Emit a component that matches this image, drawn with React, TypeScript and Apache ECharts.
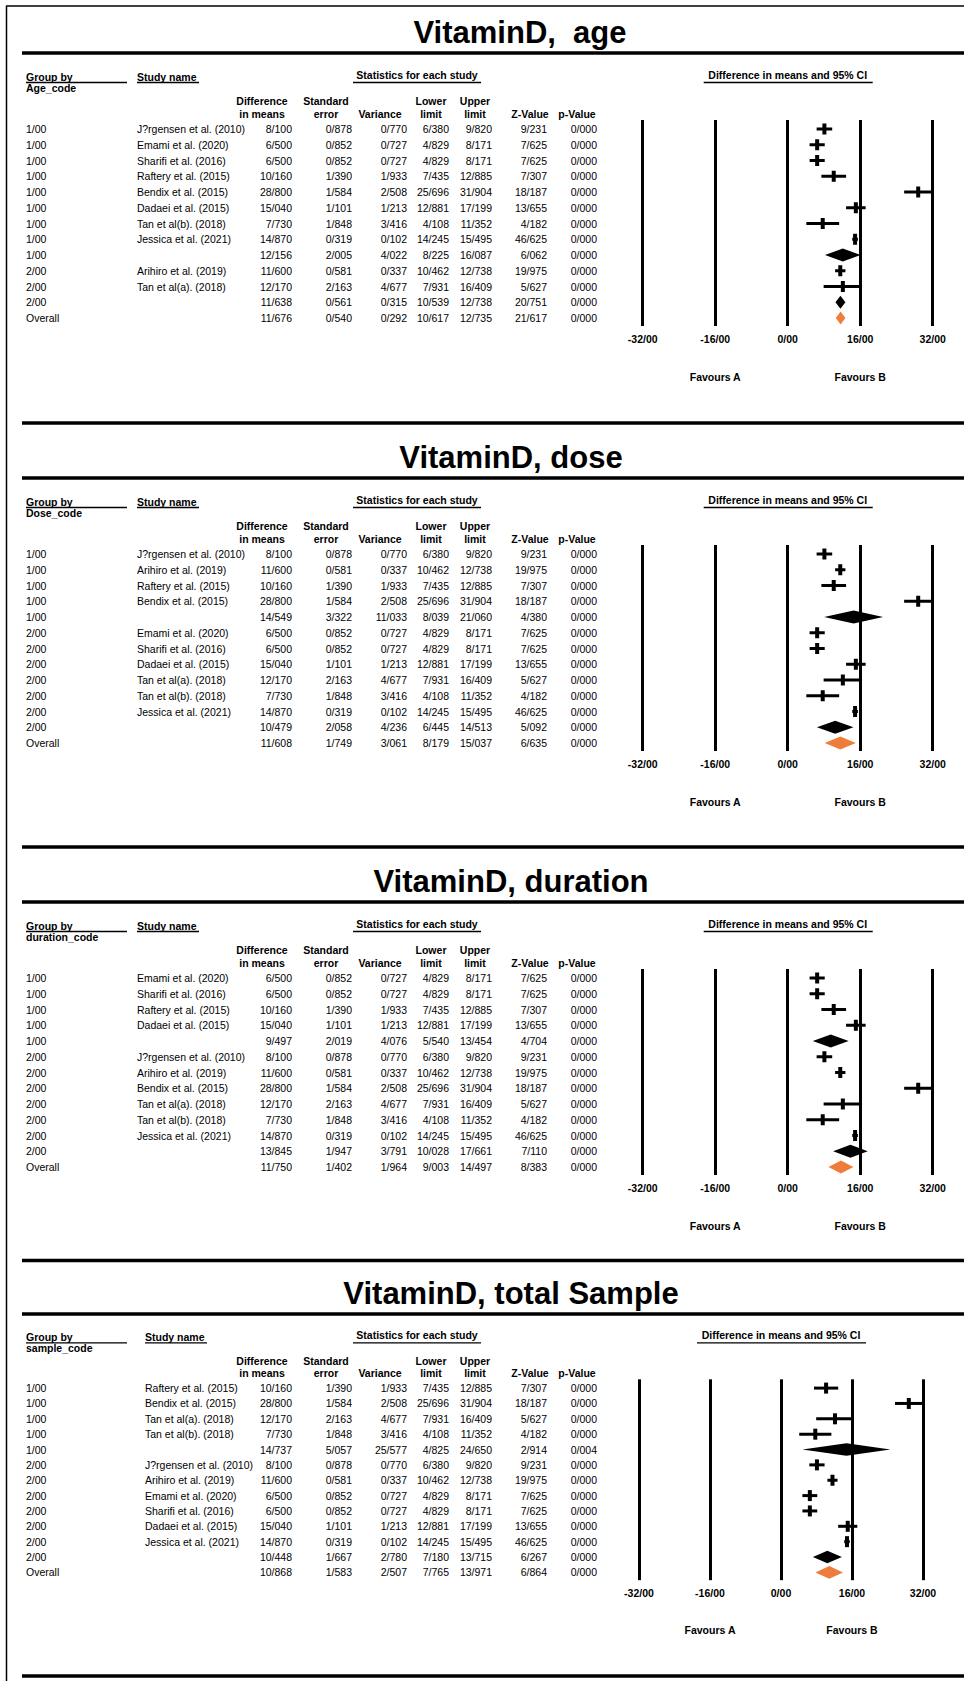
import React, { useEffect, useRef } from "react";
import * as echarts from "echarts";

// ---------- DATA ----------
// columns: group, study, difference in means, standard error, variance, lower, upper, Z, p
const xTicks = [-32, -16, 0, 16, 32];
const colHeaders = [
  ["Difference", "in means"],
  ["Standard", "error"],
  ["", "Variance"],
  ["Lower", "limit"],
  ["Upper", "limit"],
  ["", "Z-Value"],
  ["", "p-Value"],
];

const ageRows = [
  ["1/00", "J?rgensen et al. (2010)", "8/100", "0/878", "0/770", "6/380", "9/820", "9/231", "0/000"],
  ["1/00", "Emami et al. (2020)", "6/500", "0/852", "0/727", "4/829", "8/171", "7/625", "0/000"],
  ["1/00", "Sharifi et al. (2016)", "6/500", "0/852", "0/727", "4/829", "8/171", "7/625", "0/000"],
  ["1/00", "Raftery et al. (2015)", "10/160", "1/390", "1/933", "7/435", "12/885", "7/307", "0/000"],
  ["1/00", "Bendix et al. (2015)", "28/800", "1/584", "2/508", "25/696", "31/904", "18/187", "0/000"],
  ["1/00", "Dadaei et al. (2015)", "15/040", "1/101", "1/213", "12/881", "17/199", "13/655", "0/000"],
  ["1/00", "Tan et al(b). (2018)", "7/730", "1/848", "3/416", "4/108", "11/352", "4/182", "0/000"],
  ["1/00", "Jessica et al. (2021)", "14/870", "0/319", "0/102", "14/245", "15/495", "46/625", "0/000"],
  ["1/00", "", "12/156", "2/005", "4/022", "8/225", "16/087", "6/062", "0/000"],
  ["2/00", "Arihiro et al. (2019)", "11/600", "0/581", "0/337", "10/462", "12/738", "19/975", "0/000"],
  ["2/00", "Tan et al(a). (2018)", "12/170", "2/163", "4/677", "7/931", "16/409", "5/627", "0/000"],
  ["2/00", "", "11/638", "0/561", "0/315", "10/539", "12/738", "20/751", "0/000"],
  ["Overall", "", "11/676", "0/540", "0/292", "10/617", "12/735", "21/617", "0/000"],
];

const doseRows = [
  ["1/00", "J?rgensen et al. (2010)", "8/100", "0/878", "0/770", "6/380", "9/820", "9/231", "0/000"],
  ["1/00", "Arihiro et al. (2019)", "11/600", "0/581", "0/337", "10/462", "12/738", "19/975", "0/000"],
  ["1/00", "Raftery et al. (2015)", "10/160", "1/390", "1/933", "7/435", "12/885", "7/307", "0/000"],
  ["1/00", "Bendix et al. (2015)", "28/800", "1/584", "2/508", "25/696", "31/904", "18/187", "0/000"],
  ["1/00", "", "14/549", "3/322", "11/033", "8/039", "21/060", "4/380", "0/000"],
  ["2/00", "Emami et al. (2020)", "6/500", "0/852", "0/727", "4/829", "8/171", "7/625", "0/000"],
  ["2/00", "Sharifi et al. (2016)", "6/500", "0/852", "0/727", "4/829", "8/171", "7/625", "0/000"],
  ["2/00", "Dadaei et al. (2015)", "15/040", "1/101", "1/213", "12/881", "17/199", "13/655", "0/000"],
  ["2/00", "Tan et al(a). (2018)", "12/170", "2/163", "4/677", "7/931", "16/409", "5/627", "0/000"],
  ["2/00", "Tan et al(b). (2018)", "7/730", "1/848", "3/416", "4/108", "11/352", "4/182", "0/000"],
  ["2/00", "Jessica et al. (2021)", "14/870", "0/319", "0/102", "14/245", "15/495", "46/625", "0/000"],
  ["2/00", "", "10/479", "2/058", "4/236", "6/445", "14/513", "5/092", "0/000"],
  ["Overall", "", "11/608", "1/749", "3/061", "8/179", "15/037", "6/635", "0/000"],
];

const durationRows = [
  ["1/00", "Emami et al. (2020)", "6/500", "0/852", "0/727", "4/829", "8/171", "7/625", "0/000"],
  ["1/00", "Sharifi et al. (2016)", "6/500", "0/852", "0/727", "4/829", "8/171", "7/625", "0/000"],
  ["1/00", "Raftery et al. (2015)", "10/160", "1/390", "1/933", "7/435", "12/885", "7/307", "0/000"],
  ["1/00", "Dadaei et al. (2015)", "15/040", "1/101", "1/213", "12/881", "17/199", "13/655", "0/000"],
  ["1/00", "", "9/497", "2/019", "4/076", "5/540", "13/454", "4/704", "0/000"],
  ["2/00", "J?rgensen et al. (2010)", "8/100", "0/878", "0/770", "6/380", "9/820", "9/231", "0/000"],
  ["2/00", "Arihiro et al. (2019)", "11/600", "0/581", "0/337", "10/462", "12/738", "19/975", "0/000"],
  ["2/00", "Bendix et al. (2015)", "28/800", "1/584", "2/508", "25/696", "31/904", "18/187", "0/000"],
  ["2/00", "Tan et al(a). (2018)", "12/170", "2/163", "4/677", "7/931", "16/409", "5/627", "0/000"],
  ["2/00", "Tan et al(b). (2018)", "7/730", "1/848", "3/416", "4/108", "11/352", "4/182", "0/000"],
  ["2/00", "Jessica et al. (2021)", "14/870", "0/319", "0/102", "14/245", "15/495", "46/625", "0/000"],
  ["2/00", "", "13/845", "1/947", "3/791", "10/028", "17/661", "7/110", "0/000"],
  ["Overall", "", "11/750", "1/402", "1/964", "9/003", "14/497", "8/383", "0/000"],
];

const sampleRows = [
  ["1/00", "Raftery et al. (2015)", "10/160", "1/390", "1/933", "7/435", "12/885", "7/307", "0/000"],
  ["1/00", "Bendix et al. (2015)", "28/800", "1/584", "2/508", "25/696", "31/904", "18/187", "0/000"],
  ["1/00", "Tan et al(a). (2018)", "12/170", "2/163", "4/677", "7/931", "16/409", "5/627", "0/000"],
  ["1/00", "Tan et al(b). (2018)", "7/730", "1/848", "3/416", "4/108", "11/352", "4/182", "0/000"],
  ["1/00", "", "14/737", "5/057", "25/577", "4/825", "24/650", "2/914", "0/004"],
  ["2/00", "J?rgensen et al. (2010)", "8/100", "0/878", "0/770", "6/380", "9/820", "9/231", "0/000"],
  ["2/00", "Arihiro et al. (2019)", "11/600", "0/581", "0/337", "10/462", "12/738", "19/975", "0/000"],
  ["2/00", "Emami et al. (2020)", "6/500", "0/852", "0/727", "4/829", "8/171", "7/625", "0/000"],
  ["2/00", "Sharifi et al. (2016)", "6/500", "0/852", "0/727", "4/829", "8/171", "7/625", "0/000"],
  ["2/00", "Dadaei et al. (2015)", "15/040", "1/101", "1/213", "12/881", "17/199", "13/655", "0/000"],
  ["2/00", "Jessica et al. (2021)", "14/870", "0/319", "0/102", "14/245", "15/495", "46/625", "0/000"],
  ["2/00", "", "10/448", "1/667", "2/780", "7/180", "13/715", "6/267", "0/000"],
  ["Overall", "", "10/868", "1/583", "2/507", "7/765", "13/971", "6/864", "0/000"],
];

// ---------- LAYOUT ----------
const FONT = "'Liberation Sans', Arial, Helvetica, sans-serif";
const W = 964;
const H = 1681;

type Panel = {
  title: string;
  code: string;
  rows: string[][];
  L: number; // y of the thick line under the title
  s: number; // vertical scale
  titleX: number;
  studyX: number;
  x0: number; // pixel of -32
  x1: number; // pixel of 32
  above: boolean;
};

const panels: Panel[] = [
  { title: "VitaminD,  age", code: "Age_code", rows: ageRows, L: 53, s: 1, titleX: 520, studyX: 137, x0: 642.7, x1: 932.7, above: false },
  { title: "VitaminD, dose", code: "Dose_code", rows: doseRows, L: 478, s: 1, titleX: 511, studyX: 137, x0: 642.7, x1: 932.7, above: true },
  { title: "VitaminD, duration", code: "duration_code", rows: durationRows, L: 902, s: 1, titleX: 511, studyX: 137, x0: 642.7, x1: 932.7, above: true },
  { title: "VitaminD, total Sample", code: "sample_code", rows: sampleRows, L: 1314, s: 0.975, titleX: 511, studyX: 145, x0: 639, x1: 923, above: true },
];

const groupX = 26;
const valRight = [292, 352, 407, 449, 492, 547, 597];
const headCenter = [262, 326, 380, 431, 475, 530, 577];

const num = (v: string) => parseFloat(v.replace("/", "."));
const kindOf = (r: string[]) => (r[0] === "Overall" ? 2 : r[1] === "" ? 1 : 0);

function buildOption() {
  const grids: any[] = [];
  const xAxes: any[] = [];
  const yAxes: any[] = [];
  const series: any[] = [];
  const graphics: any[] = [];

  const txt = (x: number, y: number, text: string, opts: any = {}) => ({
    type: "text",
    x,
    y,
    silent: true,
    style: {
      text,
      fill: "#000",
      font: `${opts.bold ? "bold " : ""}${opts.size || 10.5}px ${FONT}`,
      textAlign: opts.align || "left",
      align: opts.align || "left",
      textVerticalAlign: "middle",
      verticalAlign: "middle",
    },
  });
  const hline = (x1: number, x2: number, y: number, w: number) => ({
    type: "line",
    silent: true,
    shape: { x1, y1: y, x2, y2: y },
    style: { stroke: "#000", lineWidth: w },
  });

  // page border
  graphics.push(hline(6, W, 6, 1.5));
  graphics.push({ type: "line", silent: true, shape: { x1: 6.5, y1: 6, x2: 6.5, y2: H }, style: { stroke: "#000", lineWidth: 1.5 } });
  graphics.push(hline(22, W, 1676, 3.5));

  panels.forEach((p, gi) => {
    const s = p.s;
    const L = p.L;
    const sp = 15.75 * s;
    const firstRow = L + 76 * s;
    const lineTop = L + 67 * s;
    const lineBottom = L + 273 * s;
    const px = (v: number) => p.x0 + ((v + 32) / 64) * (p.x1 - p.x0);

    // lines and title
    if (p.above) graphics.push(hline(22, W, L - 55 * s, 3.5));
    graphics.push(hline(22, W, L, 3.5));
    graphics.push(txt(p.titleX, L - 21 * s, p.title, { bold: true, size: 31, align: "center" }));

    // header
    const hy = L + 24 * s;
    graphics.push(txt(groupX, hy, "Group by", { bold: true }));
    graphics.push(hline(groupX, groupX + 101, hy + 5.5, 1.3));
    graphics.push(txt(groupX, L + 35 * s, p.code, { bold: true }));
    graphics.push(txt(p.studyX, hy, "Study name", { bold: true }));
    graphics.push(hline(p.studyX, p.studyX + 62, hy + 5.5, 1.3));
    graphics.push(txt(417, L + 22 * s, "Statistics for each study", { bold: true, align: "center" }));
    graphics.push(hline(353, 481, hy + 5.5, 1.3));
    const cx = px(0);
    graphics.push(txt(cx, L + 22 * s, "Difference in means and 95% CI", { bold: true, align: "center" }));
    graphics.push(hline(cx - 84, cx + 85, hy + 5.5, 1.3));
    colHeaders.forEach((h, i) => {
      if (h[0]) graphics.push(txt(headCenter[i], L + 48 * s, h[0], { bold: true, align: "center" }));
      graphics.push(txt(headCenter[i], L + 61 * s, h[1], { bold: true, align: "center" }));
    });

    // favours
    graphics.push(txt(px(-16), L + 324 * s, "Favours A", { bold: true, align: "center" }));
    graphics.push(txt(px(16), L + 324 * s, "Favours B", { bold: true, align: "center" }));

    grids.push({ left: p.x0, width: p.x1 - p.x0, top: lineTop, height: lineBottom - lineTop, containLabel: false });
    xAxes.push({
      type: "value",
      gridIndex: gi,
      min: xTicks[0],
      max: xTicks[xTicks.length - 1],
      interval: xTicks[1] - xTicks[0],
      axisLine: { show: false },
      axisTick: { show: false },
      splitLine: { show: true, showMinLine: true, showMaxLine: true, lineStyle: { color: "#000", width: 3 } },
      axisLabel: {
        show: true,
        margin: 7,
        color: "#000",
        fontWeight: "bold",
        fontSize: 10.5,
        fontFamily: FONT,
        formatter: (v: number) => (v < 0 ? "-" : "") + Math.abs(v) + "/00",
        showMinLabel: true,
        showMaxLabel: true,
      },
    });
    yAxes.push({
      type: "value",
      gridIndex: gi,
      inverse: true,
      min: (lineTop - firstRow) / sp,
      max: (lineBottom - firstRow) / sp,
      show: false,
      splitLine: { show: false },
    });

    const rows = p.rows;
    // forest marks
    series.push({
      type: "custom",
      xAxisIndex: gi,
      yAxisIndex: gi,
      clip: false,
      encode: { x: 1, y: 0 },
      data: rows.map((r, i) => [i, num(r[2]), num(r[5]), num(r[6]), kindOf(r)]),
      renderItem: (params: any, api: any) => {
        const row = api.value(0);
        const m = api.value(1);
        const lo = api.value(2);
        const hi = api.value(3);
        const k = api.value(4);
        const pm = api.coord([m, row]);
        const pl = api.coord([lo, row]);
        const ph = api.coord([hi, row]);
        if (k === 0) {
          return {
            type: "group",
            children: [
              { type: "line", shape: { x1: pl[0], y1: pl[1], x2: ph[0], y2: ph[1] }, style: { stroke: "#000", lineWidth: 3 } },
              { type: "rect", shape: { x: pm[0] - 2, y: pm[1] - 5.5, width: 4, height: 11 }, style: { fill: "#000" } },
            ],
          };
        }
        const hh = 6.5 * s;
        return {
          type: "polygon",
          shape: { points: [[pl[0], pl[1]], [pm[0], pm[1] - hh], [ph[0], ph[1]], [pm[0], pm[1] + hh]] },
          style: { fill: k === 2 ? "#EE7D3B" : "#000" },
        };
      },
    });

    // table rows
    series.push({
      type: "custom",
      xAxisIndex: gi,
      yAxisIndex: gi,
      clip: false,
      silent: true,
      encode: { x: 0, y: 1 },
      data: rows.map((r, i) => [0, i]),
      renderItem: (params: any, api: any) => {
        const r = rows[params.dataIndex];
        const y = api.coord([0, api.value(1)])[1];
        const children: any[] = [];
        children.push(txt(groupX, y, r[0]));
        if (r[1]) children.push(txt(p.studyX, y, r[1]));
        for (let c = 0; c < 7; c++) children.push(txt(valRight[c], y, r[c + 2], { align: "right" }));
        return { type: "group", children };
      },
    });
  });

  return {
    animation: false,
    backgroundColor: "#fff",
    grid: grids,
    xAxis: xAxes,
    yAxis: yAxes,
    series,
    graphic: { elements: graphics },
  };
}

export default function App() {
  const ref = useRef<HTMLDivElement>(null);
  useEffect(() => {
    document.body.style.margin = "0";
    const chart = echarts.init(ref.current!, null, { renderer: "svg", width: W, height: H });
    chart.setOption(buildOption());
    return () => chart.dispose();
  }, []);
  return <div ref={ref} style={{ width: W, height: H, background: "#fff" }} />;
}
